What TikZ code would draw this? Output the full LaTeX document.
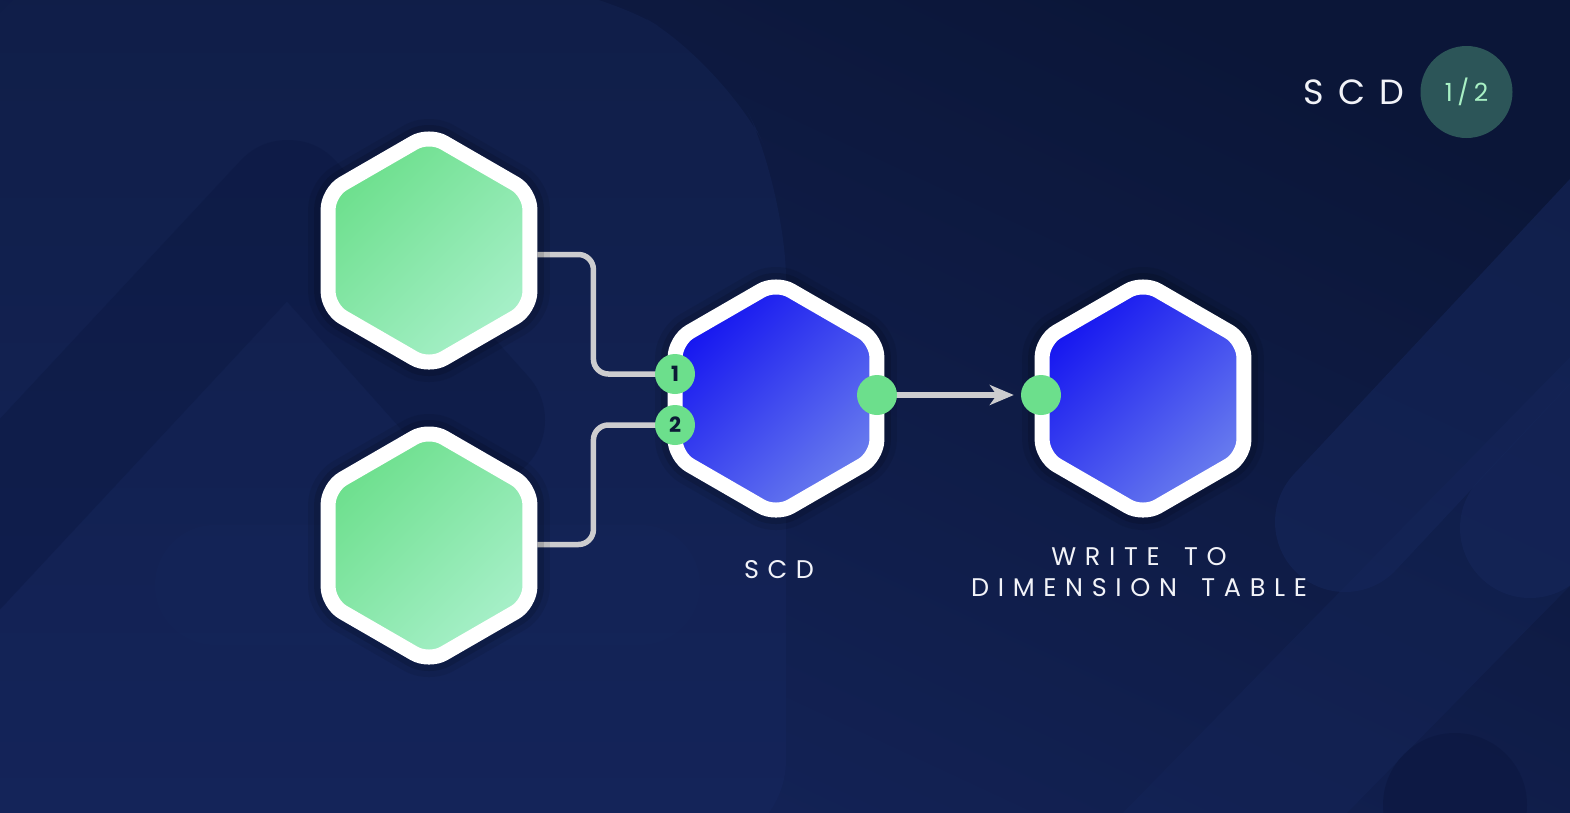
\documentclass[tikz,border=0pt]{standalone}
\usepackage{fontspec}
\setmainfont{Poppins}
\newfontfamily\lblfont[LetterSpace=34]{Poppins}
\newfontfamily\ttlfont[LetterSpace=40]{Poppins}
\newfontfamily\badgefont[LetterSpace=18]{Poppins}
\usetikzlibrary{shapes.geometric, arrows.meta, calc}
\pgfdeclarelayer{back}
\pgfdeclarelayer{mid}
\pgfsetlayers{back,mid,main}
\definecolor{bgtop}{HTML}{0B1638}
\definecolor{bgbot}{HTML}{14245A}
\definecolor{bgleft}{HTML}{101E48}
\definecolor{bgdark}{HTML}{0B1740}
\definecolor{bglight}{HTML}{15265A}
\definecolor{gA}{HTML}{6CDF8C}
\definecolor{gB}{HTML}{A8F0CA}
\definecolor{bA}{HTML}{1414F0}
\definecolor{bB}{HTML}{6A7EEE}
\definecolor{portg}{HTML}{6CDF8C}
\definecolor{connc}{HTML}{CDCDCF}
\definecolor{badgec}{HTML}{2C5558}
\definecolor{badgetxt}{HTML}{A8F0C4}
\definecolor{ink}{HTML}{0C1A36}
\definecolor{labelc}{HTML}{F2F3F8}
\tikzset{
  hexnode/.style={regular polygon, regular polygon sides=6, shape border rotate=30,
    minimum size=233pt, inner sep=0pt, draw=white, line width=15pt,
    rounded corners=17pt, line join=round,
    preaction={draw=black, draw opacity=0.08, line width=40pt, line join=round},
    preaction={draw=black, draw opacity=0.12, line width=28pt, line join=round}},
  greenhex/.style={hexnode, top color=gA, bottom color=gB, shading angle=45},
  bluehex/.style={hexnode, top color=bA, bottom color=bB, shading angle=45},
  port/.style={circle, fill=portg, minimum size=40pt, inner sep=0pt, text=ink,
    font=\bfseries\fontsize{21}{21}\selectfont},
  connector/.style={draw=connc, line width=5.5pt, rounded corners=15pt},
  lbl/.style={text=labelc, font=\lblfont\fontsize{25.5}{31}\selectfont, align=center, inner sep=0pt},
  band/.style={line cap=round, line join=round}
}
\begin{document}
\begin{tikzpicture}[x=1pt,y=-1pt]
\useasboundingbox (0,0) rectangle (1570,812);
\begin{pgfonlayer}{back}
  \shade[top color=bgtop, bottom color=bgbot, shading angle=-25] (0,0) rectangle (1570,812);
  \shade[top color=bgleft, bottom color=bgbot, rounded corners=90pt]
    (-20,-20) -- (580,-20) -- (725,65) -- (786,190) -- (786,850) -- (-20,850) -- cycle;
  % left decorative bands
  \draw[band, draw=bgdark, draw opacity=0.4, line width=130pt] (-80,600) -- (288,205) -- (480,420);
  \draw[band, draw=bglight, draw opacity=0.35, line width=120pt] (215,585) -- (640,585);
  % right decorative bands
  \draw[band, draw=bglight, draw opacity=0.4, line width=160pt] (1120,930) -- (1650,390);
  \draw[band, draw=bglight, draw opacity=0.6, line width=140pt] (1345,522) -- (1620,228);
  \draw[band, draw=bglight, draw opacity=0.6, line width=140pt] (1530,528) -- (1660,390);
  \fill[bgdark, opacity=0.6] (1455,805) circle (72);
\end{pgfonlayer}

% hexagons
\node[greenhex] (g1) at (429,250.5) {};
\node[greenhex] (g2) at (429,545.5) {};
\node[bluehex]  (scd) at (776,398.5) {};
\node[bluehex]  (dim) at (1143,398.5) {};

% ports
\node[port] (p1) at (675,374) {1};
\node[port] (p2) at (675,425) {2};
\node[port] (p3) at (877,395) {};
\node[port] (p4) at (1041,395) {};

% connectors
\begin{pgfonlayer}{mid}
  \draw[connector] ([yshift=-4pt]g1.east) -- ++(56,0) |- (p1.center);
  \draw[connector] ([yshift=1pt]g2.east) -- ++(56,0) |- (p2.center);
  \draw[connector, -{Stealth[length=24pt, width=20pt, inset=7pt]}, shorten >=7pt] (p3.center) -- (p4.west);
\end{pgfonlayer}

% labels
\node[lbl] (l1) at (779,570) {SCD};
\node[lbl] (l2) at (1139,572) {WRITE\hspace{9pt} TO\\DIMENSION\hspace{9pt} TABLE};

% title and badge
\node[text=labelc, font=\ttlfont\fontsize{35}{35}\selectfont, inner sep=0pt] (title) at (1354,92) {SCD};
\node[circle, fill=badgec, minimum size=92pt, inner sep=0pt, text=badgetxt,
  font=\badgefont\fontsize{25}{25}\selectfont] (badge) at (1466.5,92) {1/2};
\end{tikzpicture}
\end{document}
